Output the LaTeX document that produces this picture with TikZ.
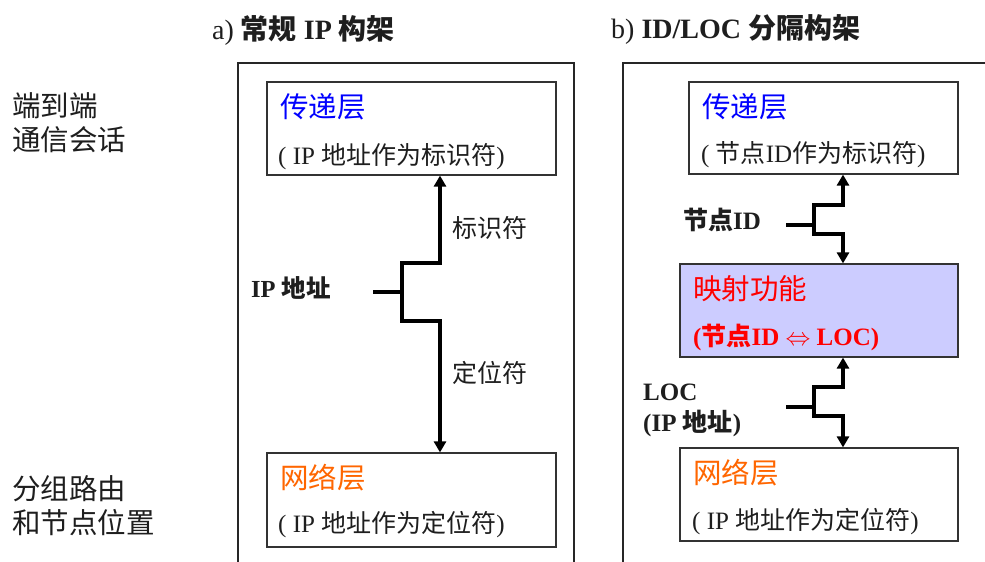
\documentclass[tikz,border=0pt]{standalone}
\usepackage{fontspec}
\setmainfont{Liberation Serif}
\newfontfamily\cjk{Noto Sans CJK SC}
\usetikzlibrary{arrows.meta}
\definecolor{tblue}{RGB}{0,0,255}
\definecolor{torange}{RGB}{255,102,0}
\definecolor{tred}{RGB}{255,0,0}
\definecolor{mapfill}{RGB}{204,204,255}
\definecolor{txt}{RGB}{30,30,30}
\begin{document}
\begin{tikzpicture}[x=1pt,y=-1pt,
  frame/.style={draw=black!85,line width=1.2pt},
  box/.style={draw=black!80,line width=1.2pt,inner sep=0pt},
  lbl/.style={anchor=west,inner sep=0pt,text=txt},
  conn/.style={line width=3.2pt,black},
  arr/.style={conn,-{Triangle[length=11pt,width=12pt]}}]
\useasboundingbox (0,0) rectangle (985,562);
\clip (0,0) rectangle (985,562);
\fill[white] (0,0) rectangle (985,562);
% titles
\node[lbl,font=\fontsize{28}{30}\selectfont] (tta) at (212,30) {a) {\cjk\bfseries 常规} \textbf{IP} {\cjk\bfseries 构架}};
\node[lbl,font=\fontsize{28}{30}\selectfont] (ttb) at (611,30) {b) \textbf{ID/LOC} {\cjk\bfseries 分隔构架}};
% side labels
\node[lbl,font=\fontsize{28.5}{34}\selectfont\cjk,align=left] (e2e) at (12,123) {端到端\\通信会话};
\node[lbl,font=\fontsize{28.5}{34}\selectfont\cjk,align=left] (rt) at (12,506) {分组路由\\和节点位置};
% frames
\draw[frame] (238,600) -- (238,63) -- (574,63) -- (574,600);
\draw[frame] (623,600) -- (623,63) -- (1000,63);
% ---- a) ----
\node[box,minimum width=289pt,minimum height=93pt] (ta) at (411.5,128.5) {};
\node[box,minimum width=289pt,minimum height=94pt] (na) at (411.5,500) {};
\node[lbl,text=tblue,font=\fontsize{28.5}{30}\selectfont\cjk] (ta1) at (280,107) {传递层};
\node[lbl,font=\fontsize{25}{26}\selectfont] (ta2) at (278,157) {( IP {\cjk 地址作为标识符})};
\node[lbl,text=torange,font=\fontsize{28.5}{30}\selectfont\cjk] (na1) at (280,478) {网络层};
\node[lbl,font=\fontsize{25}{26}\selectfont] (na2) at (278,525) {( IP {\cjk 地址作为定位符})};
\node[lbl,font=\fontsize{25}{26}\selectfont\cjk] (lid) at (452,228) {标识符};
\node[lbl,font=\fontsize{25}{26}\selectfont\cjk] (lloc) at (452,373) {定位符};
\node[lbl,font=\fontsize{24.5}{26}\selectfont\bfseries] (lip) at (251,288) {IP {\cjk 地址}};
\coordinate (ja) at (373,292);
\coordinate (jb) at (402,292);
\coordinate (ua) at (440,263);
\coordinate (da) at (440,321);
\draw[conn] (ja) -- (jb);
\draw[arr] (jb) |- (ua) -- (ta.south -| ua);
\draw[arr] (jb) |- (da) -- (na.north -| da);
% ---- b) ----
\node[box,minimum width=269pt,minimum height=92pt] (tb) at (823.5,128) {};
\node[box,fill=mapfill,minimum width=278pt,minimum height=93pt] (mb) at (819,310.5) {};
\node[box,minimum width=278pt,minimum height=93pt] (nb) at (819,494.5) {};
\node[lbl,text=tblue,font=\fontsize{28.5}{30}\selectfont\cjk] (tb1) at (702,107) {传递层};
\node[lbl,font=\fontsize{25}{26}\selectfont] (tb2) at (701,155) {( {\cjk 节点}ID{\cjk 作为标识符})};
\node[lbl,text=tred,font=\fontsize{28.5}{30}\selectfont\cjk] (mb1) at (693,289) {映射功能};
\node[lbl,text=tred,font=\fontsize{25}{26}\selectfont\bfseries] (mb2) at (693,337) {({\cjk 节点}ID $\Leftrightarrow$ LOC)};
\node[lbl,text=torange,font=\fontsize{28.5}{30}\selectfont\cjk] (nb1) at (693,473) {网络层};
\node[lbl,font=\fontsize{25}{26}\selectfont] (nb2) at (692,522) {( IP {\cjk 地址作为定位符})};
\node[lbl,font=\fontsize{25}{26}\selectfont\bfseries] (lnid) at (683,220) {{\cjk 节点}ID};
\node[lbl,font=\fontsize{25}{26}\selectfont\bfseries] (lloc1) at (643,392) {LOC};
\node[lbl,font=\fontsize{25}{26}\selectfont\bfseries] (lloc2) at (643,423) {(IP {\cjk 地址})};
\coordinate (jc) at (786,225);
\coordinate (jd) at (814,225);
\coordinate (ub) at (843,205);
\coordinate (db) at (843,234);
\draw[conn] (jc) -- (jd);
\draw[arr] (jd) |- (ub) -- (tb.south -| ub);
\draw[arr] (jd) |- (db) -- (mb.north -| db);
\coordinate (je) at (786,407);
\coordinate (jf) at (814,407);
\coordinate (uc) at (843,387);
\coordinate (dc) at (843,416);
\draw[conn] (je) -- (jf);
\draw[arr] (jf) |- (uc) -- (mb.south -| uc);
\draw[arr] (jf) |- (dc) -- (nb.north -| dc);
\end{tikzpicture}
\end{document}
